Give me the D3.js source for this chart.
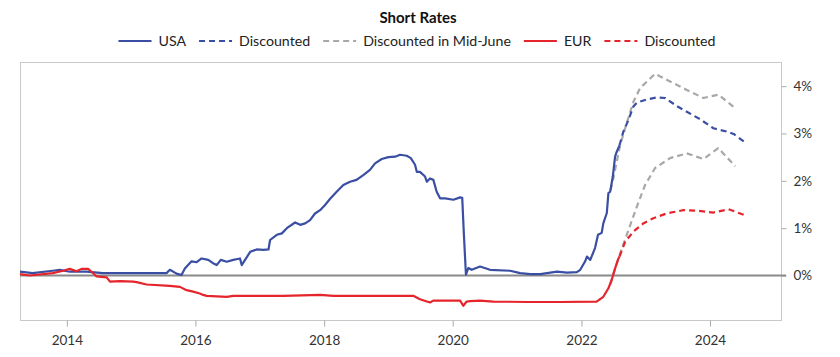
<!DOCTYPE html>
<html>
<head>
<meta charset="utf-8">
<script src="https://cdn.jsdelivr.net/npm/d3@7/dist/d3.min.js"></script>
<style>
  html, body { margin: 0; padding: 0; background: #fff; }
  svg { display: block; font-family: Lato, "Open Sans", sans-serif; }
</style>
</head>
<body>
<svg id="chart" width="840" height="357"></svg>
<script>
// ---------- DATA ----------
const title = "Short Rates";
const legendLabels = ["USA", "Discounted", "Discounted in Mid-June", "EUR", "Discounted"];
const yTickValues = [0, 1, 2, 3, 4];
const xTickYears = [2014, 2016, 2018, 2020, 2022, 2024];

// US short rate (%)
const usaDates = ["2013-04-10","2013-06-20","2013-10-13","2013-11-22","2014-01-18","2014-04-22","2014-07-24","2014-10-29",
"2015-02-01","2015-05-05","2015-07-21","2015-08-09","2015-09-16","2015-10-14","2015-11-02","2015-12-10",
"2016-01-08","2016-02-05","2016-03-14","2016-04-10","2016-05-01","2016-05-24","2016-06-27","2016-08-03",
"2016-09-10","2016-09-20","2016-10-09","2016-11-07","2016-12-14","2017-01-21","2017-02-19","2017-02-28",
"2017-04-07","2017-05-06","2017-06-03","2017-07-20","2017-08-18","2017-09-15","2017-10-13","2017-11-10",
"2017-12-09","2018-01-06","2018-02-04","2018-03-13","2018-04-20","2018-05-28","2018-07-04","2018-08-11",
"2018-09-18","2018-10-17","2018-11-24","2019-01-01","2019-02-08","2019-03-08","2019-04-15","2019-05-08",
"2019-06-01","2019-06-11","2019-06-29","2019-07-28","2019-08-07","2019-08-25","2019-09-13","2019-10-02",
"2019-10-21","2019-11-19","2020-01-05","2020-02-12","2020-02-24","2020-03-04","2020-03-16","2020-03-30",
"2020-04-18","2020-06-04","2020-07-31","2020-11-22","2021-01-18","2021-03-16","2021-05-12","2021-08-15",
"2021-10-11","2021-12-06","2021-12-25","2022-01-22","2022-02-01","2022-02-20","2022-03-19","2022-04-05",
"2022-04-26","2022-05-05","2022-05-25","2022-06-03","2022-06-13","2022-06-28","2022-07-11","2022-07-21",
"2022-08-05"];
const usaValues = [0.08,0.05,0.10,0.12,0.08,0.08,0.05,0.05,
0.05,0.05,0.05,0.12,0.04,0.01,0.15,0.30,
0.28,0.36,0.33,0.26,0.22,0.33,0.29,0.33,
0.36,0.22,0.33,0.50,0.55,0.54,0.55,0.75,
0.86,0.89,1.00,1.12,1.07,1.10,1.17,1.31,
1.38,1.49,1.62,1.77,1.91,1.98,2.02,2.12,
2.23,2.37,2.46,2.50,2.51,2.55,2.53,2.48,
2.34,2.19,2.19,2.09,1.98,2.05,2.02,1.77,
1.63,1.63,1.60,1.65,1.64,0.90,0.02,0.16,
0.12,0.19,0.12,0.10,0.05,0.03,0.03,0.08,
0.06,0.07,0.12,0.30,0.40,0.33,0.58,0.86,
0.90,1.10,1.32,1.74,1.77,2.09,2.51,2.62,
2.75];

// USA discounted path (current)
const usaDiscDates = ["2022-08-05","2022-08-27","2022-09-25","2022-10-23","2022-11-11","2023-01-07","2023-03-04",
"2023-04-20","2023-06-26","2023-08-22","2023-11-06","2024-01-20","2024-04-06","2024-05-14","2024-07-12"];
const usaDiscValues = [2.75,3.04,3.29,3.57,3.65,3.72,3.76,3.75,3.58,3.46,3.30,3.11,3.04,2.99,2.83];

// USA discounted in mid-June
const usaJuneDates = ["2022-06-15","2022-06-28","2022-08-09","2022-09-15","2022-10-23","2022-11-30","2023-02-23",
"2023-05-19","2023-08-22","2023-11-24","2024-02-17","2024-05-14"];
const usaJuneValues = [1.80,2.00,2.76,3.22,3.67,3.96,4.26,4.10,3.92,3.75,3.82,3.56];

// EUR short rate (%)
const eurDates = ["2013-04-10","2013-06-05","2013-10-13","2013-12-11","2014-01-18","2014-02-25","2014-03-25","2014-05-02",
"2014-05-21","2014-06-19","2014-08-15","2014-09-03","2014-10-29","2015-01-13","2015-02-01","2015-03-30",
"2015-08-09","2015-10-05","2015-11-12","2015-12-19","2016-01-26","2016-02-14","2016-03-05","2016-06-27",
"2016-08-03","2017-05-15","2017-12-09","2018-02-23","2018-08-30","2019-05-22","2019-06-29","2019-08-25",
"2019-09-13","2020-01-05","2020-02-12","2020-03-01","2020-03-20","2020-04-09","2020-06-04","2020-08-19",
"2021-02-25","2021-09-02","2022-03-28","2022-05-05","2022-06-03","2022-06-22","2022-07-11","2022-07-30",
"2022-08-05"];
const eurValues = [0.03,0.00,0.05,0.10,0.14,0.09,0.14,0.14,
0.08,-0.02,-0.04,-0.13,-0.12,-0.13,-0.14,-0.19,
-0.22,-0.24,-0.31,-0.34,-0.38,-0.41,-0.43,-0.45,
-0.43,-0.43,-0.41,-0.43,-0.43,-0.43,-0.50,-0.57,
-0.53,-0.53,-0.53,-0.64,-0.55,-0.54,-0.53,-0.55,
-0.56,-0.56,-0.55,-0.45,-0.27,-0.09,0.15,0.36,
0.40];

// EUR discounted path (current)
const eurDiscDates = ["2022-08-05","2022-09-06","2022-10-23","2022-12-18","2023-02-13","2023-04-30","2023-08-03",
"2023-10-18","2024-01-20","2024-04-15","2024-07-12"];
const eurDiscValues = [0.40,0.71,0.93,1.10,1.21,1.31,1.38,1.37,1.33,1.40,1.28];

// EUR discounted in mid-June
const eurJuneDates = ["2022-06-15","2022-06-28","2022-08-09","2022-09-25","2022-11-11","2022-12-28","2023-02-23",
"2023-05-19","2023-08-22","2023-11-24","2024-02-17","2024-05-23"];
const eurJuneValues = [-0.18,0.00,0.47,0.96,1.45,1.91,2.27,2.48,2.58,2.46,2.69,2.31];

// ---------- CHART ----------
const parse = d3.timeParse("%Y-%m-%d");
const zip = (ds, vs) => ds.map((d, i) => ({ date: parse(d), v: vs[i] }));

const BLUE = "#3a4fa3", RED = "#e5242c", GRAY = "#a8a8a8";
const svg = d3.select("#chart");
const L = 20, R = 781, T = 62, B = 320;

const x = d3.scaleTime()
  .domain([parse("2013-04-10"), parse("2025-02-07")])
  .range([L, R]);
const y = d3.scaleLinear().domain([-0.94, 4.51]).range([B, T]);

// frame
const frame = svg.append("g").attr("stroke", "#c9c9c9").attr("stroke-width", 1).attr("fill", "none");
frame.append("rect").attr("x", L + 0.5).attr("y", T + 0.5).attr("width", R - L).attr("height", B - T);

// axes
const yAxis = d3.axisRight(y).tickValues(yTickValues).tickSize(5).tickPadding(7).tickFormat(d => d + "%");
const gy = svg.append("g").attr("transform", `translate(${R + 0.5},0)`).call(yAxis);
gy.select(".domain").remove();
gy.selectAll(".tick line").attr("stroke", "#aaa");
gy.selectAll("text").attr("fill", "#333").style("font-size", "13.5px").style("font-family", "Lato, sans-serif");

const xAxis = d3.axisBottom(x).tickValues(xTickYears.map(yv => new Date(yv, 0, 1))).tickSize(6).tickPadding(9)
  .tickFormat(d3.timeFormat("%Y"));
const gx = svg.append("g").attr("transform", `translate(0,${B + 0.5})`).call(xAxis);
gx.select(".domain").remove();
gx.selectAll(".tick line").attr("stroke", "#aaa");
gx.selectAll("text").attr("fill", "#333").style("font-size", "13.5px").style("font-family", "Lato, sans-serif");

// zero line
svg.append("line").attr("x1", L).attr("x2", R + 5).attr("y1", y(0)).attr("y2", y(0))
  .attr("stroke", "#8a8a8a").attr("stroke-width", 2);

const line = d3.line().x(d => x(d.date)).y(d => y(d.v)).curve(d3.curveLinear);
const series = [
  { data: zip(eurJuneDates, eurJuneValues), color: GRAY, dash: "6,4" },
  { data: zip(usaJuneDates, usaJuneValues), color: GRAY, dash: "6,4" },
  { data: zip(usaDates, usaValues), color: BLUE, dash: null },
  { data: zip(eurDates, eurValues), color: RED, dash: null },
  { data: zip(usaDiscDates, usaDiscValues), color: BLUE, dash: "6,4" },
  { data: zip(eurDiscDates, eurDiscValues), color: RED, dash: "6,4" }
];
svg.append("g").selectAll("path").data(series).join("path")
  .attr("d", s => line(s.data))
  .attr("fill", "none")
  .attr("stroke", s => s.color)
  .attr("stroke-width", 2.2)
  .attr("stroke-linejoin", "round")
  .attr("stroke-dasharray", s => s.dash);

// title
svg.append("text").attr("x", 418).attr("y", 23).attr("text-anchor", "middle")
  .style("font-size", "15px").style("font-weight", "bold").attr("fill", "#111").text(title);

// legend
const legendStyles = [
  { color: BLUE, dash: null }, { color: BLUE, dash: "6,4" }, { color: GRAY, dash: "6,4" },
  { color: RED, dash: null }, { color: RED, dash: "6,4" }
];
const lg = svg.append("g");
const swatchW = 33, swGap = 7, itemGap = 13;
let cx = 0;
legendLabels.forEach((lab, i) => {
  const g = lg.append("g");
  g.append("line").attr("x1", 0).attr("x2", swatchW).attr("y1", 0).attr("y2", 0)
    .attr("stroke", legendStyles[i].color).attr("stroke-width", 2.2)
    .attr("stroke-dasharray", legendStyles[i].dash);
  const t = g.append("text").attr("x", swatchW + swGap).attr("y", 5)
    .style("font-size", "14.2px").attr("fill", "#222").text(lab);
  const w = swatchW + swGap + t.node().getComputedTextLength();
  g.attr("transform", `translate(${cx},0)`);
  cx += w + itemGap;
});
const totalW = cx - itemGap;
lg.attr("transform", `translate(${417 - totalW / 2},41)`);
</script>
</body>
</html>
